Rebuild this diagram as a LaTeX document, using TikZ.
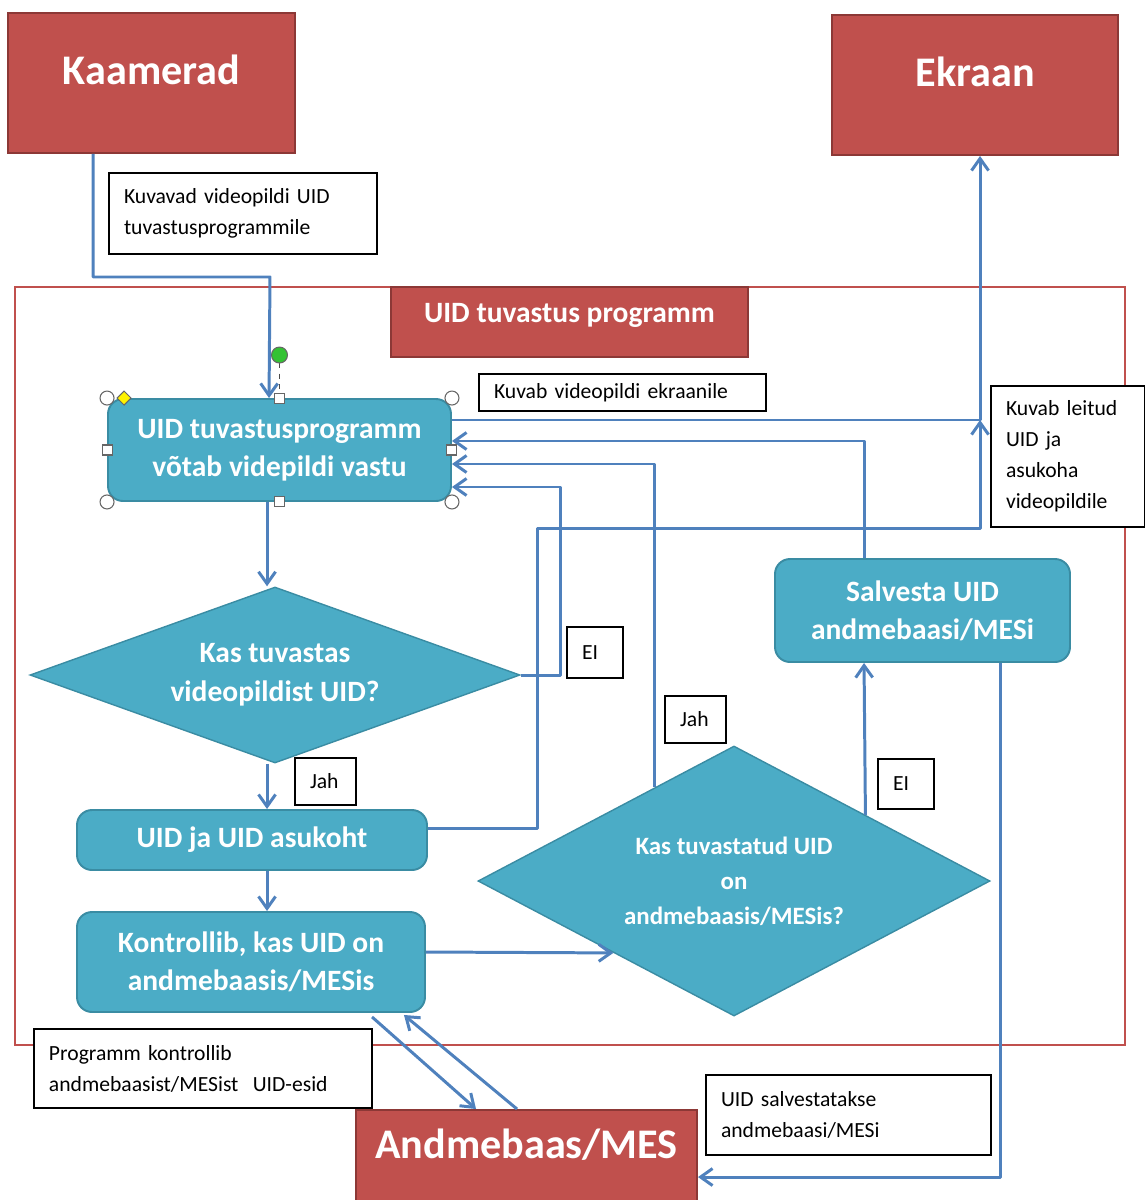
\documentclass[tikz,border=0pt]{standalone}
\usepackage{fontspec}
\setmainfont{Carlito}
\usetikzlibrary{shapes.geometric, arrows.meta, calc}
\definecolor{boxred}{HTML}{C0504D}
\definecolor{boxredline}{HTML}{8C3836}
\definecolor{procfill}{HTML}{4BACC6}
\definecolor{procline}{HTML}{3A8CA3}
\definecolor{linkblue}{HTML}{4F81BD}
\tikzset{
  sz/.style 2 args={minimum width={#1*0.02cm}, minimum height={#2*0.02cm}},
  ext/.style={
    rectangle,
    fill=boxred,
    draw=boxredline,
    line width=1.1pt,
    text=white,
    font=\fontsize{24}{28}\selectfont\bfseries,
    inner sep=0pt
  },
  proc/.style={
    rectangle,
    rounded corners=0.3cm,
    fill=procfill,
    draw=procline,
    line width=1.1pt,
    text=white,
    align=center,
    font=\fontsize{16.8}{21.8}\selectfont\bfseries,
    inner sep=0pt
  },
  dec/.style={
    diamond,
    fill=procfill,
    draw=procline,
    line width=0.8pt,
    text=white,
    align=center,
    font=\fontsize{16.8}{22}\selectfont\bfseries,
    inner sep=0pt
  },
  note/.style 2 args={
    rectangle,
    fill=white,
    draw=black,
    line width=0.8pt,
    align=left,
    inner xsep=0.3cm,
    inner ysep=0pt,
    text width={(#1-30)*0.02cm},
    minimum height={#2*0.02cm},
    font=\fontsize{12.3}{17.6}\selectfont
  },
  progframe/.style={draw=boxred, line width=1.3pt},
  arrow/.style={linkblue, line width=1.7pt, line join=round, -{Straight Barb[length=2.4mm,width=3.4mm]}},
  hdl/.style={fill=white, draw=gray!80!black, line width=0.6pt}
}
\begin{document}
\begin{tikzpicture}[x=0.02cm, y=-0.02cm]
  \useasboundingbox (0,0) rectangle (1145,1200);
  \draw[progframe] (15,287) rectangle (1125,1045);

  \node (kaam) [ext, sz={287}{140}, text height=0.55cm, text depth=0.5cm] at (151.5,83) {Kaamerad};
  \node (ekraan) [ext, sz={286}{140}, text height=0.55cm, text depth=0.48cm] at (975,85) {Ekraan};
  \node (prog) [ext, sz={357}{70}, font=\fontsize{16.8}{20}\selectfont\bfseries, text height=0.38cm, text depth=0.36cm] at (569.5,322) {UID tuvastus programm};
  \node (uid) [proc, sz={343}{102}] at (279.5,450) {UID tuvastusprogramm\\võtab videpildi vastu};
  \node (dec1) [dec, sz={490}{176}, aspect=2.78, yshift=0cm] at (275,675) {Kas tuvastas\\videopildist UID?};
  \node (asuk) [proc, sz={350}{60}] at (252,840) {UID ja UID asukoht};
  \node (kontr) [proc, sz={348}{100}] at (251,962) {Kontrollib, kas UID on\\andmebaasis/MESis};
  \node (dec2) [dec, sz={512}{270}, aspect=1.9, font=\fontsize{14.2}{20}\selectfont\bfseries] at (734,881) {Kas tuvastatud UID\\on\\andmebaasis/MESis?};
  \node (salv) [proc, sz={295}{103}] at (922.5,610.5) {Salvesta UID\\andmebaasi/MESi};
  \node (andm) [ext, sz={341}{180}, text height=0.55cm, text depth=2.2cm] at (526.5,1200) {Andmebaas/MES};

  \node (lab1) [note={268}{81}] at (243,213.5) {Kuvavad videopildi UID\\tuvastusprogrammile};
  \node (lab2) [note={287}{37}] at (622.5,392.5) {Kuvab videopildi ekraanile};
  \node (lab3) [note={154}{141}] at (1068,456.5) {Kuvab leitud\\UID ja\\asukoha\\videopildile};
  \node (lab4) [note={338}{79}] at (203,1068.5) {Programm kontrollib\\andmebaasist/MESist\ \ UID-esid};
  \node (lab5) [note={285}{80}] at (848.5,1115) {UID salvestatakse\\andmebaasi/MESi};
  \node (ei1) [note={56}{51}] at (595,652.5) {EI};
  \node (jah1) [note={61}{47}] at (325.5,781.5) {Jah};
  \node (jah2) [note={61}{47}] at (695.5,719.5) {Jah};
  \node (ei2) [note={56}{50}] at (906,784) {EI};

  \coordinate (dn) at ($(uid.south west)+(160,0)$);
  \coordinate (scr) at ($(ekraan.south west)+(149,0)$);
  \coordinate (out) at ($(uid.east)+(0,-30)$);
  \coordinate (sv) at ($(salv.north west)+(90,0)$);

  \draw[arrow] ($(kaam.south west)+(86,0)$) |- (270,277) -- ($(uid.north west)+(162,0)$);
  \draw[arrow] (dn) -- (dn |- dec1.north);
  \draw[arrow] (dn |- dec1.south) -- (dn |- asuk.north);
  \draw[arrow] (dn |- asuk.south) -- (dn |- kontr.north);
  \draw[arrow] ($(kontr.east)+(0,-10)$) -- ($(dec2.west)!0.53!(dec2.south)$);
  \draw[arrow] (dec1.east) -| (560,487) -- ($(uid.east)+(0,37)$);
  \draw[arrow] ($(dec2.north)!0.31!(dec2.west)$) |- ($(uid.east)+(0,14)$);
  \draw[arrow] (sv |- salv.north) |- ($(uid.east)+(0,-9)$);
  \draw[arrow] (out) -| (scr);
  \draw[arrow] ($(asuk.east)+(0,-12)$) -| (537,528) -| (out -| scr);
  \draw[arrow] ($(dec2.north)!0.512!(dec2.east)$) -- (sv |- salv.south);
  \draw[arrow] ($(salv.south east)+(-70,0)$) |- ($(andm.north east)+(0,68)$);
  \draw[arrow] ($(kontr.south west)+(296,4)$) -- ($(andm.north west)+(121,0)$);
  \draw[arrow] ($(andm.north west)+(162,0)$) -- ($(kontr.south east)+(-22,2)$);

  \foreach \a in {north west, north east, south west, south east}
    \draw[hdl] (uid.\a) circle[radius=0.14cm];
  \foreach \a in {north, south, west, east}
    \draw[hdl] ($(uid.\a)+(-5,-5)$) rectangle ($(uid.\a)+(5,5)$);
  \draw[hdl, fill=yellow] ($(uid.north west)+(17,-7)$) -- ++(7,7) -- ++(-7,7) -- ++(-7,-7) -- cycle;
  \draw[gray!60!black, dashed, line width=0.6pt] ($(uid.north)+(0,-35)$) -- ($(uid.north)+(0,-6)$);
  \draw[hdl, fill=green!70!black!80] ($(uid.north)+(0,-43)$) circle[radius=0.16cm];
\end{tikzpicture}
\end{document}
